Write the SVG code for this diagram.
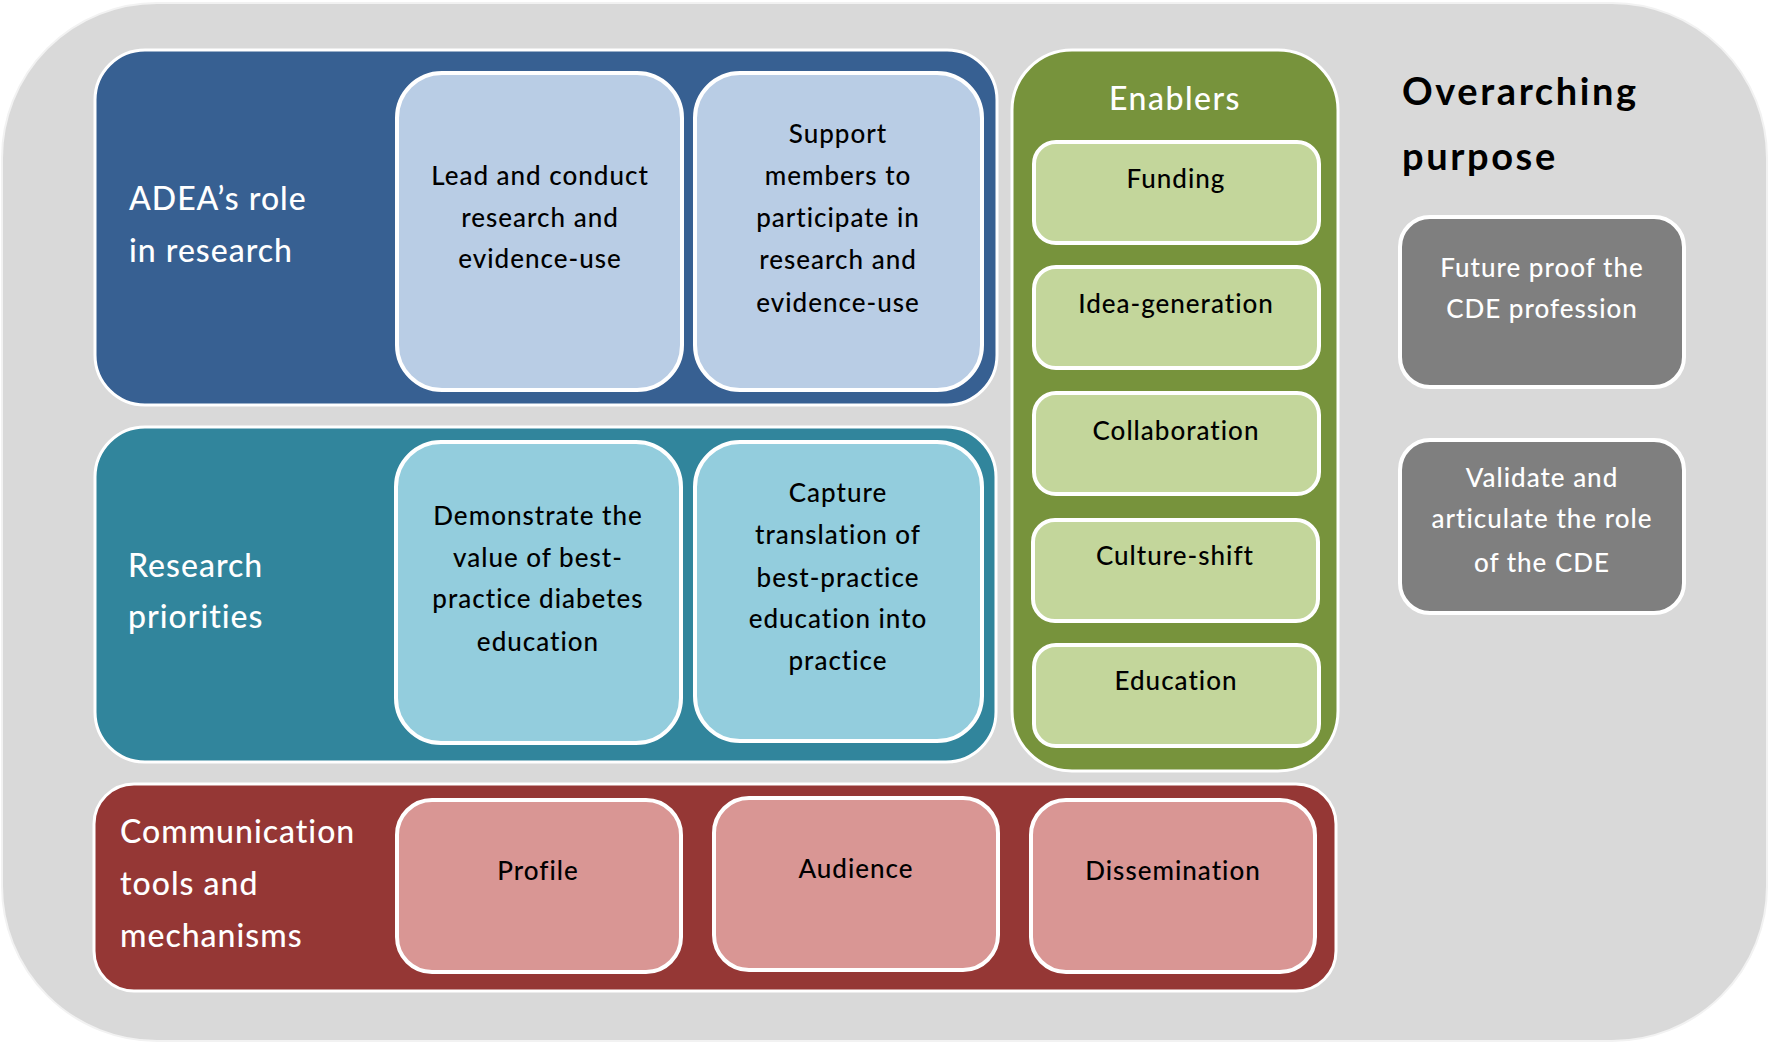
<svg xmlns="http://www.w3.org/2000/svg" width="1769" height="1044" viewBox="0 0 1769 1044">
  <style>
    text { font-family: Lato, "Open Sans", "DejaVu Sans", sans-serif; font-weight: 500; }
    .panel { stroke: #ffffff; stroke-width: 3; }
    .box { stroke: #ffffff; stroke-width: 4; }
    .label { fill: #ffffff; font-size: 32px; letter-spacing: 1px; }
    .item { fill: #000000; font-size: 26px; text-anchor: middle; letter-spacing: 1px; }
    .light { fill: #ffffff; }
    .head { fill: #000000; font-size: 38px; font-weight: 700; letter-spacing: 2.6px; }
  </style>

  <!-- backdrop -->
  <rect x="2" y="3" width="1765" height="1038" rx="155" ry="155" fill="#d9d9d9" stroke="#f2f2f2" stroke-width="2"/>

  <!-- ADEA's role in research -->
  <g id="role">
    <rect class="panel" x="95" y="50" width="902" height="355" rx="50" fill="#376092"/>
    <text class="label" x="129" y="210">ADEA’s role</text>
    <text class="label" x="129" y="262">in research</text>
  </g>
  <g id="lead">
    <rect class="box" x="397" y="73" width="285" height="317" rx="45" fill="#b9cde5"/>
    <text class="item" x="540" y="185">Lead and conduct</text>
    <text class="item" x="540" y="227">research and</text>
    <text class="item" x="540" y="268">evidence-use</text>
  </g>
  <g id="support">
    <rect class="box" x="695" y="73" width="287" height="317" rx="45" fill="#b9cde5"/>
    <text class="item" x="838" y="143">Support</text>
    <text class="item" x="838" y="185">members to</text>
    <text class="item" x="838" y="227">participate in</text>
    <text class="item" x="838" y="269">research and</text>
    <text class="item" x="838" y="312">evidence-use</text>
  </g>

  <!-- Research priorities -->
  <g id="priorities">
    <rect class="panel" x="95" y="427" width="901" height="335" rx="50" fill="#31859c"/>
    <text class="label" x="128" y="577">Research</text>
    <text class="label" x="128" y="628">priorities</text>
  </g>
  <g id="demonstrate">
    <rect class="box" x="396" y="442" width="285" height="301" rx="45" fill="#93cddd"/>
    <text class="item" x="538" y="525">Demonstrate the</text>
    <text class="item" x="538" y="567">value of best-</text>
    <text class="item" x="538" y="608">practice diabetes</text>
    <text class="item" x="538" y="651">education</text>
  </g>
  <g id="capture">
    <rect class="box" x="695" y="442" width="287" height="299" rx="45" fill="#93cddd"/>
    <text class="item" x="838" y="502">Capture</text>
    <text class="item" x="838" y="544">translation of</text>
    <text class="item" x="838" y="587">best-practice</text>
    <text class="item" x="838" y="628">education into</text>
    <text class="item" x="838" y="670">practice</text>
  </g>

  <!-- Communication tools and mechanisms -->
  <g id="communication">
    <rect class="panel" x="94" y="784" width="1242" height="207" rx="40" fill="#953735"/>
    <text class="label" x="120" y="843">Communication</text>
    <text class="label" x="120" y="895">tools and</text>
    <text class="label" x="120" y="947">mechanisms</text>
  </g>
  <g id="profile">
    <rect class="box" x="397" y="800" width="284" height="172" rx="35" fill="#d99694"/>
    <text class="item" x="538" y="880">Profile</text>
  </g>
  <g id="audience">
    <rect class="box" x="714" y="798" width="284" height="172" rx="35" fill="#d99694"/>
    <text class="item" x="856" y="878">Audience</text>
  </g>
  <g id="dissemination">
    <rect class="box" x="1031" y="800" width="284" height="172" rx="35" fill="#d99694"/>
    <text class="item" x="1173" y="880">Dissemination</text>
  </g>

  <!-- Enablers -->
  <g id="enablers">
    <rect class="panel" x="1012" y="50" width="326" height="721" rx="60" fill="#77933c"/>
    <text class="label" x="1175" y="110" text-anchor="middle" style="letter-spacing:1.5px">Enablers</text>
  </g>
  <g id="funding">
    <rect class="box" x="1034" y="142" width="285" height="101" rx="22" fill="#c3d69b"/>
    <text class="item" x="1176" y="188">Funding</text>
  </g>
  <g id="idea-generation">
    <rect class="box" x="1034" y="267" width="285" height="101" rx="22" fill="#c3d69b"/>
    <text class="item" x="1176" y="313">Idea-generation</text>
  </g>
  <g id="collaboration">
    <rect class="box" x="1034" y="393" width="285" height="101" rx="22" fill="#c3d69b"/>
    <text class="item" x="1176" y="440">Collaboration</text>
  </g>
  <g id="culture-shift">
    <rect class="box" x="1033" y="520" width="285" height="101" rx="22" fill="#c3d69b"/>
    <text class="item" x="1175" y="565">Culture-shift</text>
  </g>
  <g id="education">
    <rect class="box" x="1034" y="645" width="285" height="101" rx="22" fill="#c3d69b"/>
    <text class="item" x="1176" y="690">Education</text>
  </g>

  <!-- Overarching purpose -->
  <g id="purpose">
    <text class="head" x="1402" y="105">Overarching</text>
    <text class="head" x="1402" y="170">purpose</text>
  </g>
  <g id="future-proof">
    <rect class="box" x="1400" y="217" width="284" height="170" rx="30" fill="#7f7f7f" stroke="#eeeeee"/>
    <text class="item light" x="1542" y="277">Future proof the</text>
    <text class="item light" x="1542" y="318">CDE profession</text>
  </g>
  <g id="validate">
    <rect class="box" x="1400" y="440" width="284" height="173" rx="30" fill="#7f7f7f" stroke="#eeeeee"/>
    <text class="item light" x="1542" y="487">Validate and</text>
    <text class="item light" x="1542" y="528">articulate the role</text>
    <text class="item light" x="1542" y="572">of the CDE</text>
  </g>

  <!-- no connectors in this layout -->
  <g id="connectors"/>
</svg>
